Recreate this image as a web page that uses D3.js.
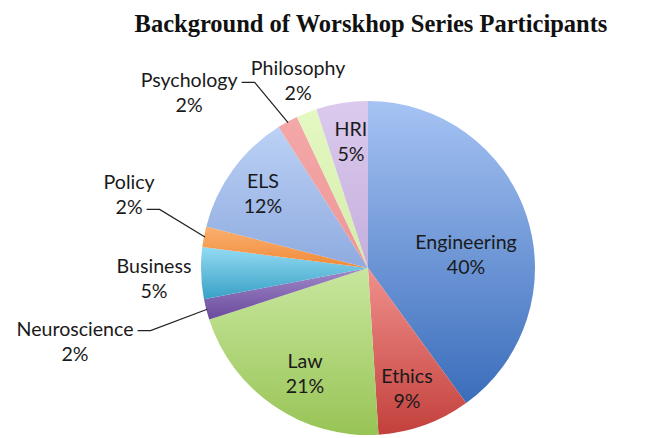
<!DOCTYPE html>
<html>
<head>
<meta charset="utf-8">
<script src="https://cdn.jsdelivr.net/npm/d3@7"></script>
<style>
  body { margin: 0; background: #fff; }
  svg { display: block; }
</style>
</head>
<body>
<div id="chart"></div>
<script>
// data
const categories = ["Engineering", "Ethics", "Law", "Neuroscience", "Business",
                    "Policy", "ELS", "Psychology", "Philosophy", "HRI"];
const shares = [40, 9, 21, 2, 5, 2, 12, 2, 2, 5];
const title = "Background of Worskhop Series Participants";

// top / bottom gradient stops per slice
const topColors = ["#a6c3f3", "#f0908c", "#c8e79e", "#a08ac8", "#93dbf3",
                   "#fbb070", "#bcd1f5", "#f4a8a8", "#e4f8c4", "#dccaee"];
const bottomColors = ["#3a6dbb", "#c3403c", "#98c456", "#6a4a9c", "#38a0c6",
                      "#f08a38", "#8eaadf", "#ee9696", "#d4eda8", "#c4afdc"];

// label placement: distance (in radii) and angle (deg, clockwise from top)
const labelLayout = {
  Engineering:  { r: 0.593, a: 81.9 },
  Ethics:       { r: 0.759, a: 162.1 },
  Law:          { r: 0.736, a: 210.8 },
  Neuroscience: { r: 1.808, a: 256.0, leader: 0 },
  Business:     { r: 1.283, a: 267.3 },
  Policy:       { r: 1.496, a: 287.0, leader: 1 },
  ELS:          { r: 0.773, a: 305.5 },
  Psychology:   { r: 1.499, a: 314.4, leader: 0 },
  Philosophy:   { r: 1.196, a: 339.5 },
  HRI:          { r: 0.762, a: 352.3 }
};

const width = 648, height = 438;
const cx = 368, cy = 268, radius = 167;
const lineH = 25, capH = 14;

const svg = d3.select("#chart").append("svg")
    .attr("width", width)
    .attr("height", height);

svg.append("text")
    .attr("x", 371)
    .attr("y", 32)
    .attr("text-anchor", "middle")
    .attr("font-family", "'Liberation Serif', 'Times New Roman', serif")
    .attr("font-weight", "bold")
    .attr("font-size", "24.5px")
    .attr("fill", "#111")
    .text(title);

const defs = svg.append("defs");
categories.forEach((c, i) => {
    const g = defs.append("linearGradient")
        .attr("id", "grad" + i)
        .attr("x1", 0).attr("y1", 0).attr("x2", 0).attr("y2", 1);
    g.append("stop").attr("offset", "0%").attr("stop-color", topColors[i]);
    g.append("stop").attr("offset", "100%").attr("stop-color", bottomColors[i]);
});

const data = categories.map((c, i) => ({ name: c, value: shares[i], idx: i }));

const pie = d3.pie()
    .value(d => d.value)
    .sort(null);

const arc = d3.arc()
    .innerRadius(0)
    .outerRadius(radius);

const arcs = pie(data);

const g = svg.append("g")
    .attr("transform", `translate(${cx},${cy})`);

g.selectAll("path.slice")
    .data(arcs)
    .enter().append("path")
    .attr("class", "slice")
    .attr("d", arc)
    .attr("fill", d => `url(#grad${d.data.idx})`);

// polar helper, angle in radians clockwise from 12 o'clock
const polar = (r, a) => [r * Math.sin(a), -r * Math.cos(a)];

const labels = g.selectAll("g.label")
    .data(arcs)
    .enter().append("g")
    .attr("class", "label")
    .attr("transform", d => {
        const lay = labelLayout[d.data.name];
        const [x, y] = polar(lay.r * radius, lay.a * Math.PI / 180);
        return `translate(${x},${y})`;
    });

labels.each(function(d) {
    const sel = d3.select(this);
    const lines = [d.data.name, d.data.value + "%"];
    lines.forEach((t, k) => {
        sel.append("text")
            .attr("class", "line" + k)
            .attr("x", 0)
            .attr("y", -lineH / 2 + capH / 2 + k * lineH)
            .attr("text-anchor", "middle")
            .attr("font-family", "Lato, 'Noto Sans', sans-serif")
            .attr("font-size", "19.6px")
            .attr("fill", "#1a1a1a")
            .text(t);
    });
});

// leader lines for small outside labels
labels.filter(d => labelLayout[d.data.name].leader !== undefined)
    .each(function(d) {
        const lay = labelLayout[d.data.name];
        const [lx, ly] = polar(lay.r * radius, lay.a * Math.PI / 180);
        const txt = d3.select(this).select("text.line" + lay.leader);
        const w = txt.node().getComputedTextLength();
        const y0 = ly - lineH / 2 + lay.leader * lineH + 2;
        const x0 = lx + w / 2 + 4;
        const mid = (d.startAngle + d.endAngle) / 2;
        const [ex, ey] = polar(radius - 1, mid);
        g.append("path")
            .attr("d", d3.line()([[x0, y0], [x0 + 13, y0], [ex, ey]]))
            .attr("fill", "none")
            .attr("stroke", "#222")
            .attr("stroke-width", 1.2);
    });
</script>
</body>
</html>
